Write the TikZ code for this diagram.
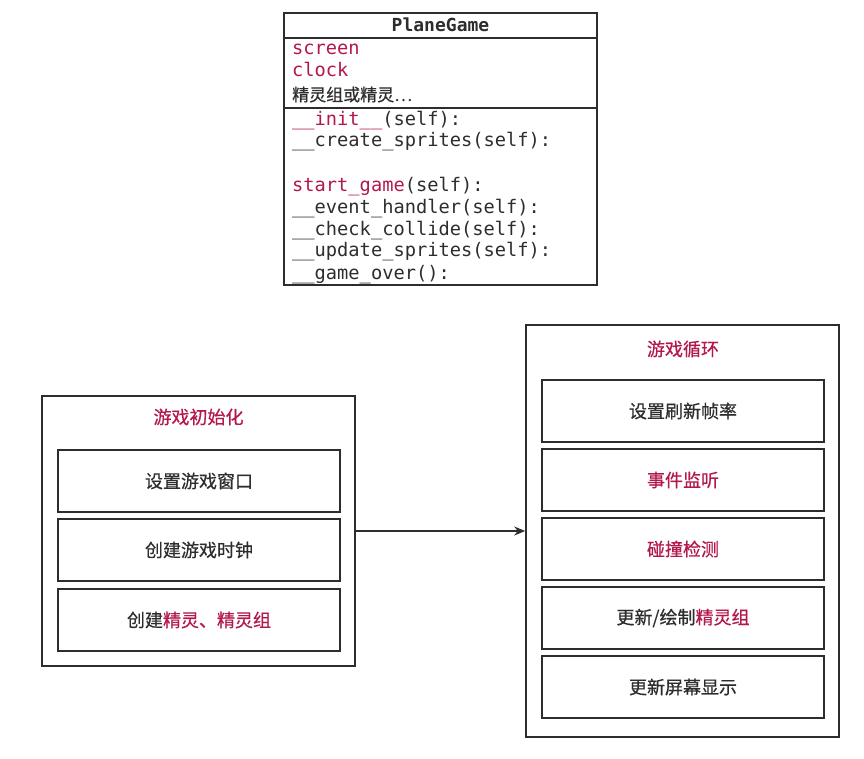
\documentclass[tikz,border=0pt]{standalone}
\usepackage{fontspec}
\usepackage{xcolor}
\usepackage{tikz}
\setmonofont{DejaVu Sans Mono}
\newfontfamily\cjk[FakeBold=0.6]{Noto Sans CJK SC}
\usetikzlibrary{positioning, calc, arrows.meta}
\definecolor{keyred}{RGB}{178,24,78}
\definecolor{ink}{RGB}{45,45,45}
\newcommand{\hl}[1]{\textcolor{keyred}{#1}}

\begin{document}
\begin{tikzpicture}[x=1pt, y=-1pt, ink,
    outerbox/.style={draw=ink, line width=1.6pt, minimum width=313pt, inner sep=0pt},
    innerbox/.style={draw=ink, line width=1.6pt, minimum width=282pt, minimum height=62pt,
                     font=\cjk\fontsize{18}{21}\selectfont},
    title/.style={font=\cjk\fontsize{18}{21}\selectfont, text=keyred},
    member/.style={anchor=base west, inner sep=0pt, font=\ttfamily\fontsize{18.7}{21}\selectfont}]

    \useasboundingbox (0,0) rectangle (864,759);

    % Class box PlaneGame
    \node[outerbox, minimum height=272pt] (cls) at (440.5,149) {};
    \coordinate (sepA) at (0,38);
    \coordinate (sepB) at (0,108);
    \draw[line width=1.5pt] (cls.west |- sepA) -- (cls.east |- sepA);
    \draw[line width=1.5pt] (cls.west |- sepB) -- (cls.east |- sepB);
    \node[anchor=base, inner sep=0pt, font=\ttfamily\bfseries\fontsize{18}{21}\selectfont] (clsname) at (440.5,32) {PlaneGame};

    % Attributes
    \node[member] (screen) at (292,55)  {\hl{screen}};
    \node[member] (clock)  at (292,77)  {\hl{clock}};
    \node[member, font=\cjk\fontsize{17}{20}\selectfont] (sprites) at (292,101) {精灵组或精灵…};

    % Methods
    \node[member] (init)    at (292,125.5) {\hl{\_\_init\_\_}(self):};
    \node[member] (create)  at (292,147)   {\_\_create\_sprites(self):};
    \node[member] (start)   at (292,192)   {\hl{start\_game}(self):};
    \node[member] (event)   at (292,213.5) {\_\_event\_handler(self):};
    \node[member] (collide) at (292,235.5) {\_\_check\_collide(self):};
    \node[member] (update)  at (292,257)   {\_\_update\_sprites(self):};
    \node[member] (over)    at (292,279)   {\_\_game\_over():};

    % Game init block
    \node[outerbox, minimum height=270pt] (gameinit) at (198.5,531) {};
    \node[title] (inittitle) at (198.5,417) {游戏初始化};
    \node[innerbox] (setwin)   at (199,481) {设置游戏窗口};
    \node[innerbox] (mkclock)  at (199,550) {创建游戏时钟};
    \node[innerbox] (mksprite) at (199,620) {创建\hl{精灵、精灵组}};

    % Game loop block
    \node[outerbox, minimum height=412pt] (gameloop) at (682.5,531) {};
    \node[title] (looptitle) at (683,349) {游戏循环};
    \node[innerbox] (fps)     at (683,411) {设置刷新帧率};
    \node[innerbox] (listen)  at (683,480) {\hl{事件监听}};
    \node[innerbox] (hit)     at (683,549) {\hl{碰撞检测}};
    \node[innerbox] (redraw)  at (683,618) {更新/绘制\hl{精灵组}};
    \node[innerbox] (refresh) at (683,687) {更新屏幕显示};

    % Init leads into the loop
    \draw[-{Stealth[length=11pt, width=9pt]}, line width=1.4pt] (gameinit.east) -- (gameloop.west);

\end{tikzpicture}
\end{document}
